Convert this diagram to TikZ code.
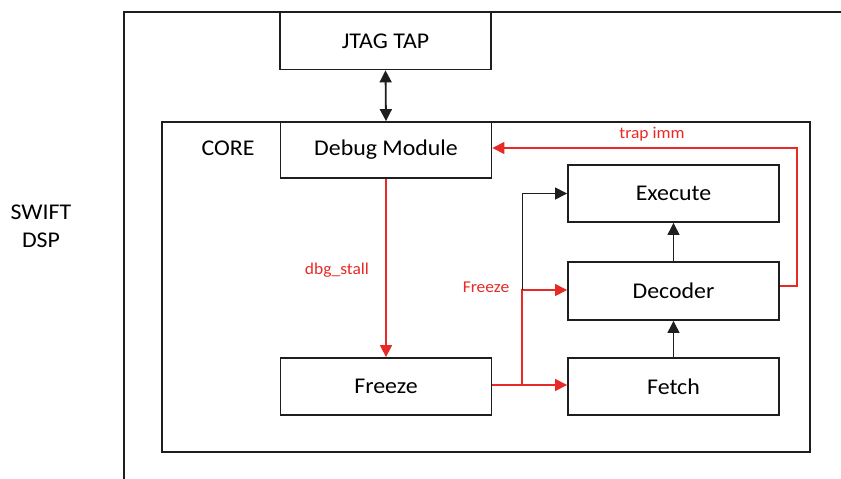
\documentclass[tikz,border=0pt]{standalone}
\usepackage{fontspec}
\setmainfont{Carlito}[FakeStretch=1.06]
\usetikzlibrary{arrows.meta,calc}
\definecolor{sigred}{RGB}{232,42,38}
\definecolor{frame}{RGB}{30,30,30}
\tikzset{
  block/.style={draw=frame, line width=1.8pt, fill=white, minimum width=211pt,
    minimum height=57pt, inner sep=0pt, font=\fontsize{22.5}{26}\selectfont},
  wire/.style={line width=1pt, draw=frame},
  redwire/.style={line width=1.1pt, draw=sigred},
  tip/.style={-{Triangle[length=12pt,width=12pt]}},
  redlabel/.style={text=sigred, font=\fontsize{16.5}{19}\selectfont, inner sep=0pt},
  plainlabel/.style={font=\fontsize{22.5}{28}\selectfont, inner sep=0pt, align=center},
}
\begin{document}
\begin{tikzpicture}[x=1pt, y=-1pt]
  \useasboundingbox (0,0) rectangle (841,479);
  \clip (0,0) rectangle (841,479);
  \fill[white] (0,0) rectangle (841,479);

  % SWIFT DSP frame and the core inside it
  \draw[frame, line width=1.8pt] (124,12) rectangle (870,510);
  \draw[frame, line width=1.8pt] (162,122) rectangle (810,452);
  \node[plainlabel] (dsp) at (41,226) {SWIFT\\DSP};
  \node[plainlabel] (core) at (228,148) {CORE};

  % blocks
  \node[block] (jtag) at (385.5,41) {JTAG TAP};
  \node[block, minimum height=56pt] (dbg) at (386,150) {Debug Module};
  \node[block] (frz) at (386,386.5) {Freeze};
  \node[block] (exe) at (673.5,193.5) {Execute};
  \node[block, minimum height=58pt] (dec) at (673.5,291) {Decoder};
  \node[block] (fet) at (673.5,386.5) {Fetch};

  % JTAG <-> debug module
  \draw[line width=1.8pt, draw=frame, {Triangle[length=12pt,width=12pt]}-{Triangle[length=12pt,width=12pt]}]
    (jtag.south) -- (dbg.north);

  % stall request into the freeze unit
  \draw[redwire, line width=1.6pt, tip, sigred] (dbg.south) -- (frz.north)
    node[redlabel, pos=0.51, xshift=-49pt] (stall) {dbg\_stall};

  % freeze fan-out
  \coordinate (j) at (522,385);
  \coordinate (jd) at (522,290);
  \draw[redwire, tip, sigred] (frz.east |- j) -- (j) -- (fet.west |- j);
  \draw[redwire, tip, sigred] (j) -- (jd) -- (dec.west |- jd);
  \draw[wire, tip, frame] (jd) -- (jd |- exe.west) -- (exe.west);
  \node[redlabel] (frzlbl) at (486,287) {Freeze};

  % pipeline
  \draw[wire, tip, frame] (fet.north) -- (dec.south);
  \draw[wire, tip, frame] (dec.north) -- (exe.south);

  % trap immediate back to the debug module
  \coordinate (tr) at (797,286);
  \coordinate (tt) at (797,148);
  \draw[redwire, tip, sigred] (dec.east |- tr) -- (tr) -- (tt) -- (dbg.east |- tt);
  \node[redlabel] (traplbl) at (652,134) {trap imm};
\end{tikzpicture}
\end{document}
